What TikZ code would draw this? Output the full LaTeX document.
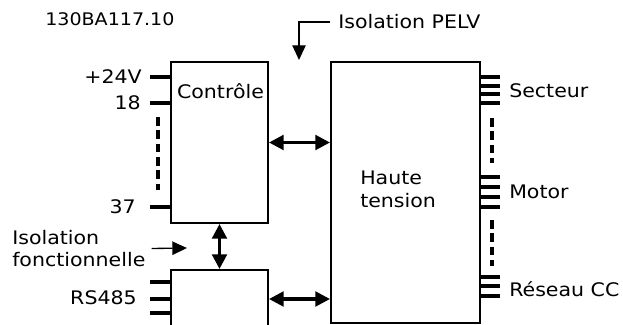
\documentclass[tikz,border=0pt]{standalone}
\usepackage{fontspec}
\setmainfont[FakeStretch=1.1]{DejaVu Sans}
\usetikzlibrary{arrows.meta, positioning}

\tikzset{
  block/.style={draw, line width=1.5pt, inner sep=0pt},
  pinline/.style={line width=2.4pt},
  pindash/.style={line width=2.5pt, dash pattern=on 6.5pt off 3.5pt},
  dblarrow/.style={line width=2.3pt, {Triangle[length=11pt,width=11pt]}-{Triangle[length=11pt,width=11pt]}},
  leader/.style={line width=1pt, -{Triangle[length=11pt,width=10pt]}},
  lbl/.style={inner sep=0pt, font=\fontsize{14}{17}\selectfont},
}

\begin{document}
\begin{tikzpicture}[x=0.75pt, y=-0.75pt]
    \clip (0,0) rectangle (623,324);

    % --- Drawing number ---
    \node[anchor=west, inner sep=0pt, font=\fontsize{13}{15}\selectfont] (code) at (45,19) {130BA117.10};

    % --- Blocks ---
    \node[block, minimum width=72.75pt, minimum height=120.75pt] (ctrl) at (219.5,142.5) {};
    \node[lbl] (ctrltxt) at (220.5,91) {Contrôle};
    \node[block, minimum width=72.75pt, minimum height=43.5pt] (rs) at (219.5,299) {};
    \node[block, minimum width=111.75pt, minimum height=195.4pt] (hv) at (405.5,192.75) {};
    \node[lbl, anchor=west, align=left] (hvtxt) at (360,189) {Haute\\tension};

    % --- Links between blocks ---
    \draw[dblarrow] (ctrl.east) -- (hv.west |- ctrl.east);
    \draw[dblarrow] (rs.east) -- (hv.west |- rs.east);
    \draw[dblarrow] (ctrl.south) -- (rs.north);

    % --- Control terminals (left) ---
    \foreach \y/\t/\n/\g in {77/+24V/p24/8, 103/18/p18/9, 207/37/p37/14} {
      \draw[pinline] (ctrl.west |- 0,\y) -- ++(-20,0) coordinate (\n end);
      \node[lbl, anchor=east] (\n) at ([xshift=-\g*0.75pt]\n end) {\t};
    }
    \draw[pindash] (158,117) -- (158,190);

    % --- RS485 terminals ---
    \foreach \y in {282, 299, 313} {
      \draw[pinline] (rs.west |- 0,\y) -- ++(-20,0);
    }
    \node[lbl, anchor=east] (rslbl) at (137,298) {RS485};

    % --- Power terminals (right) ---
    \foreach \y in {77, 86, 94, 103, 177, 187, 197, 207, 277, 286, 296} {
      \draw[pinline] (hv.east |- 0,\y) -- ++(19,0);
    }
    \draw[pindash] (492,118) -- (492,163);
    \draw[pindash] (492,220) -- (492,266);
    \node[lbl, anchor=west] (secteur) at (509,91) {Secteur};
    \node[lbl, anchor=west] (motor) at (509,192) {Motor};
    \node[lbl, anchor=west] (reseau) at (509,289) {Réseau CC};

    % --- Isolation marks ---
    \node[lbl, anchor=west] (pelv) at (338,22) {Isolation PELV};
    \coordinate (pelvtip) at (299,60);
    \draw[leader] ([xshift=-6pt]pelv.west) -| (pelvtip);

    \node[lbl, anchor=west, align=left] (isofonc) at (12,248.5) {Isolation\\fonctionnelle};
    \coordinate (isotip) at (187,248);
    \draw[leader] ([xshift=4.5pt]isofonc.east) -- (isotip);

\end{tikzpicture}
\end{document}
